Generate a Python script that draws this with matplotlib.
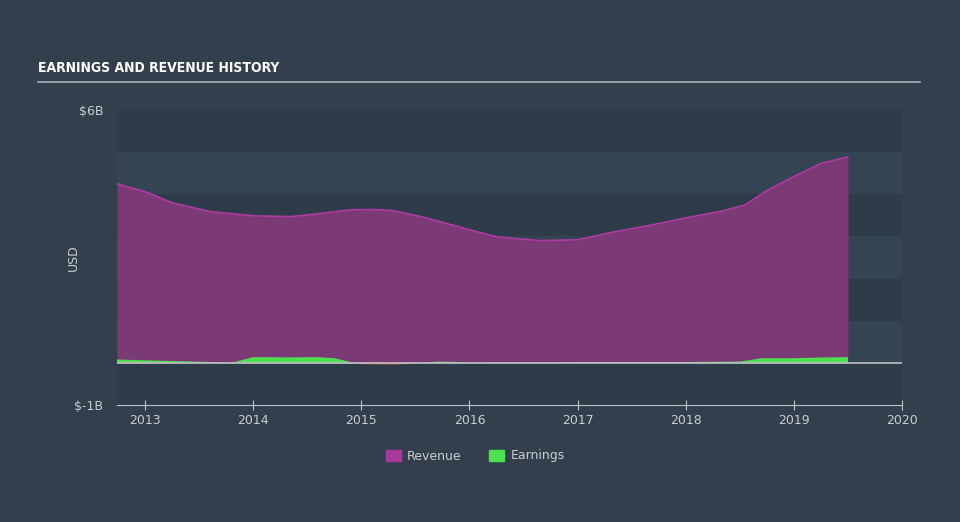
import numpy as np
import matplotlib.pyplot as plt
from matplotlib.patches import Patch

# Données (milliards USD)
rev_t = [2012.74, 2013.0, 2013.25, 2013.6, 2014.0, 2014.35, 2014.6, 2014.9, 2015.1,
         2015.3, 2015.6, 2016.0, 2016.25, 2016.65, 2017.0, 2017.3, 2017.7, 2018.0,
         2018.35, 2018.55, 2018.75, 2019.0, 2019.25, 2019.5]
rev_v = [4.25, 4.06, 3.80, 3.59, 3.49, 3.47, 3.54, 3.63, 3.64, 3.61, 3.44, 3.16,
         2.99, 2.90, 2.92, 3.09, 3.28, 3.44, 3.61, 3.75, 4.09, 4.42, 4.73, 4.89]

earn_t = [2012.74, 2013.0, 2013.3, 2013.6, 2013.8, 2013.9, 2014.0, 2014.3, 2014.6,
          2014.75, 2014.9, 2015.0, 2015.3, 2015.5, 2015.7, 2015.9, 2016.0, 2016.2,
          2016.6, 2017.0, 2017.5, 2018.0, 2018.5, 2018.7, 2019.0, 2019.3, 2019.5]
earn_v = [0.08, 0.06, 0.04, 0.02, 0.00, 0.07, 0.135, 0.13, 0.135, 0.11, 0.02, -0.03,
          -0.04, -0.02, 0.03, 0.02, -0.01, 0.01, 0.01, 0.02, 0.02, 0.02, 0.03, 0.11,
          0.11, 0.13, 0.135]

years = [2013, 2014, 2015, 2016, 2017, 2018, 2019, 2020]

bg = '#333f4c'
plot_bg = '#354452'
band = '#2e3b49'
txt = '#c9cdd2'
rev_fill = '#7b3a76'
rev_line = '#b03aa4'
green = '#4fe04f'
red = '#e04848'

fig = plt.figure(figsize=(9.6, 5.22), dpi=100, facecolor=bg)
ax = fig.add_axes([117 / 960, 1 - 405 / 522, 785 / 960, 295 / 522])
ax.set_facecolor(plot_bg)

# bandes horizontales
for lo in [-1, 1, 3, 5]:
    ax.axhspan(lo, lo + 1, color=band, zorder=0, lw=0)

ax.fill_between(rev_t, 0, rev_v, color=rev_fill, zorder=2, lw=0)
ax.plot(rev_t, rev_v, color=rev_line, lw=1.2, zorder=3)

e_t = np.array(earn_t)
e_v = np.array(earn_v)
ax.fill_between(e_t, 0, e_v, where=e_v >= 0, interpolate=True, color=green, zorder=4, lw=0)
ax.fill_between(e_t, 0, e_v, where=e_v <= 0, interpolate=True, color=red, zorder=4, lw=0)
ax.axhline(0, color='#bfc3c6', lw=1.2, zorder=5)

ax.set_xlim(2012.74, 2020.0)
ax.set_ylim(-1, 6)
ax.set_xticks(years)
ax.set_xticklabels([str(y) for y in years], color=txt, fontsize=9)
ax.set_yticks([-1, 6])
ax.set_yticklabels(['$-1B', '$6B'], color=txt, fontsize=9)
ax.tick_params(axis='y', length=0, pad=10)
ax.tick_params(axis='x', color='#c0c6cc', length=7, pad=3, direction='inout')
for s in ['top', 'right', 'left']:
    ax.spines[s].set_visible(False)
ax.spines['bottom'].set_color('#c0c6cc')
ax.set_ylabel('USD', color=txt, fontsize=9)
ax.yaxis.set_label_coords(-0.047, 0.5)

# titre et trait
fig.text(38 / 960, 1 - 68 / 522, 'EARNINGS AND REVENUE HISTORY', color='white',
         fontsize=10, fontweight='bold', fontstretch='condensed',
         family=['DejaVu Sans'], va='center', ha='left')
fig.add_artist(plt.Line2D([38 / 960, 920 / 960], [1 - 82 / 522, 1 - 82 / 522],
                          color='#a7afb7', lw=1.2))

handles = [Patch(color='#a8389b', label='Revenue'), Patch(color=green, label='Earnings')]
leg = fig.legend(handles=handles, loc='center', bbox_to_anchor=(0.495, 1 - 456 / 522),
                 ncol=2, frameon=False, fontsize=9, handlelength=1.2, handleheight=1.0,
                 columnspacing=2.2, handletextpad=0.5)
for t in leg.get_texts():
    t.set_color(txt)

plt.savefig('out.png', dpi=100, facecolor=bg)
